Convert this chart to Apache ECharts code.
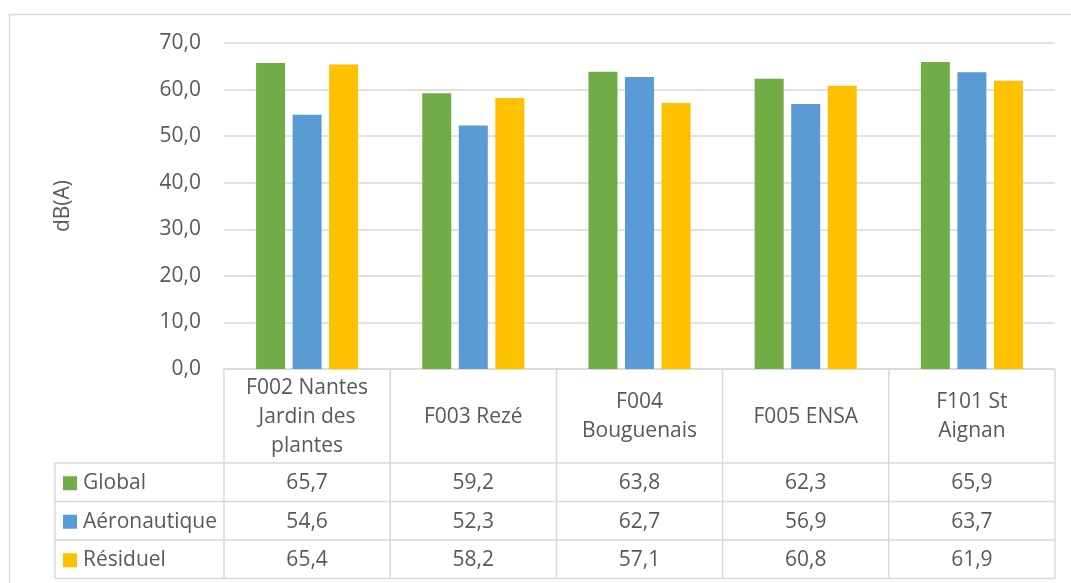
<!DOCTYPE html>
<html><head><meta charset="utf-8">
<script src="https://cdn.jsdelivr.net/npm/echarts@6/dist/echarts.min.js"></script>
<style>html,body{margin:0;padding:0;background:#fff}#c{width:1071px;height:583px}</style>
</head><body><div id="c"></div>
<script>
const categories = ['F002 Nantes\nJardin des\nplantes', 'F003 Rezé', 'F004\nBouguenais', 'F005 ENSA', 'F101 St\nAignan'];
const seriesNames = ['Global', 'Aéronautique', 'Résiduel'];
const globalVals = [65.7, 59.2, 63.8, 62.3, 65.9];
const aeroVals = [54.6, 52.3, 62.7, 56.9, 63.7];
const residVals = [65.4, 58.2, 57.1, 60.8, 61.9];
const yTicks = [0, 10, 20, 30, 40, 50, 60, 70];

const colors = ['#70ad47', '#5b9bd5', '#ffc000'];
const seriesData = [globalVals, aeroVals, residVals];
const FONT = '"Open Sans", "Liberation Sans", sans-serif';
const FS = 21;
const TXT = '#595959';
const LINE = '#d9d9d9';
const fmt = v => v.toFixed(1).replace('.', ',');

const W = 1071, H = 583;
const G = {left: 224, right: 16, top: 43, bottom: 214};
const tableRowH = [94, 38.5, 38.5, 38.5];
const tableLeft = 55;

const chart = echarts.init(document.getElementById('c'), null, {renderer: 'canvas'});

const option = {
  animation: false,
  backgroundColor: '#fff',
  textStyle: {fontFamily: FONT},
  grid: G,
  xAxis: {
    type: 'category',
    data: categories,
    axisLine: {show: false},
    axisTick: {show: false},
    axisLabel: {show: false}
  },
  yAxis: {
    type: 'value',
    min: yTicks[0], max: yTicks[yTicks.length - 1], interval: 10,
    name: 'dB(A)', nameLocation: 'middle', nameGap: 150, nameRotate: 90,
    nameTextStyle: {color: TXT, fontSize: FS, fontFamily: FONT},
    axisLine: {show: false}, axisTick: {show: false},
    axisLabel: {color: TXT, fontSize: FS, fontFamily: FONT, margin: 23, formatter: v => fmt(v)},
    splitLine: {lineStyle: {color: LINE, width: 1.5}}
  },
  series: seriesNames.map((n, i) => ({
    name: n, type: 'bar', data: seriesData[i],
    itemStyle: {color: colors[i]},
    barWidth: 29, barGap: '26%', barCategoryGap: '38%'
  }))
};
chart.setOption(option);

// Build data table below the plot
const n = categories.length;
const gridW = W - G.left - G.right;
const band = gridW / n;
const yTop = H - G.bottom;
const els = [];
const line = (x1, y1, x2, y2) => els.push({type: 'line', shape: {x1, y1, x2, y2}, style: {stroke: LINE, lineWidth: 1.5}, silent: true});
const rowY = [yTop];
tableRowH.forEach(h => rowY.push(rowY[rowY.length - 1] + h));
const xRight = G.left + gridW;
line(G.left, rowY[0], xRight, rowY[0]);
for (let r = 1; r < rowY.length; r++) line(tableLeft, rowY[r], xRight, rowY[r]);
line(tableLeft, rowY[1], tableLeft, rowY[rowY.length - 1]);
for (let c = 0; c <= n; c++) {
  const x = G.left + c * band;
  line(x, rowY[0], x, rowY[rowY.length - 1]);
}
categories.forEach((cat, c) => {
  const cx = chart.convertToPixel({xAxisIndex: 0}, c);
  els.push({type: 'text', x: cx, y: (rowY[0] + rowY[1]) / 2 + 1, silent: true,
    style: {text: cat, fill: TXT, font: FS + 'px ' + FONT, align: 'center', verticalAlign: 'middle', lineHeight: 29}});
});
seriesNames.forEach((name, r) => {
  const cy = (rowY[r + 1] + rowY[r + 2]) / 2 + 1;
  els.push({type: 'rect', shape: {x: 63, y: cy - 7, width: 14, height: 14}, style: {fill: colors[r]}, silent: true});
  els.push({type: 'text', x: 83, y: cy, silent: true,
    style: {text: name, fill: TXT, font: FS + 'px ' + FONT, align: 'left', verticalAlign: 'middle'}});
  seriesData[r].forEach((v, c) => {
    const cx = chart.convertToPixel({xAxisIndex: 0}, c);
    els.push({type: 'text', x: cx, y: cy, silent: true,
      style: {text: fmt(v), fill: TXT, font: FS + 'px ' + FONT, align: 'center', verticalAlign: 'middle'}});
  });
});
els.push({type: 'rect', shape: {x: 9.5, y: 14.5, width: 1080, height: 600}, style: {fill: 'none', stroke: LINE, lineWidth: 1.5}, silent: true});
chart.setOption({graphic: {elements: els}});
</script>
</body></html>
